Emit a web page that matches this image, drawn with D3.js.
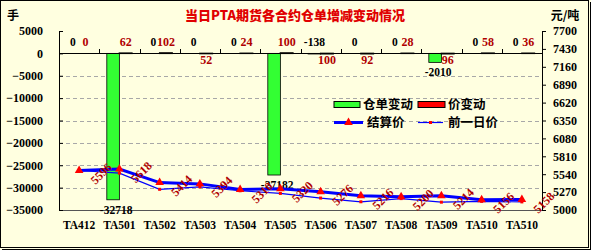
<!DOCTYPE html>
<html><head><meta charset="utf-8">
<script src="https://cdn.jsdelivr.net/npm/d3@7"></script>
<style>
html,body{margin:0;padding:0;background:#fff;}
svg{display:block;}
</style></head>
<body><svg id="c" width="591" height="250"></svg>
<script>
const categories = ["TA412","TA501","TA502","TA503","TA504","TA505","TA506","TA507","TA508","TA509","TA510","TA510"];
const warrantChange = [0,-32718,0,0,0,-27182,-138,0,0,-2010,0,0];
const priceChange = [0,62,102,-52,24,100,-100,-92,28,-96,58,36];
const settlePrice = [5596,5618,5414,5394,5310,5320,5276,5216,5200,5214,5156,5158];
const prevPrice = [5596,5556,5312,5350,5290,5250,5180,5124,5172,5118,5130,5122];
const leftTicks = [5000,0,-5000,-10000,-15000,-20000,-25000,-30000,-35000];
const rightTicks = [7700,7430,7160,6890,6620,6350,6080,5810,5540,5270,5000];
const legendLabels = ["仓单变动","价变动","结算价","前一日价"];
const titleText = "当日PTA期货各合约仓单增减变动情况";

const svg = d3.select("#c");
const W = 591, H = 250;
const L = 59, R = 542, T = 31, B = 210;
const bg = "#FFFFE0";
const latin = "'Liberation Serif', serif";
const cjk = "'Noto Sans CJK SC', sans-serif";
const labelRed = "#b00000";

svg.append("rect").attr("x",0).attr("y",0).attr("width",W).attr("height",H).attr("fill",bg);
svg.append("rect").attr("x",0.5).attr("y",0.5).attr("width",588).attr("height",247)
  .attr("fill","none").attr("stroke","#000").attr("stroke-width",1);
svg.append("line").attr("x1",2).attr("x2",591).attr("y1",249.5).attr("y2",249.5).attr("stroke","#000");
svg.append("line").attr("x1",590.5).attr("x2",590.5).attr("y1",2).attr("y2",250).attr("stroke","#000");

const x = d3.scaleBand().domain(d3.range(categories.length)).range([L,R]).paddingInner(0).paddingOuter(0);
const yL = d3.scaleLinear().domain([-35000,5000]).range([B,T]);
const yR = d3.scaleLinear().domain([5000,7700]).range([B,T]);
const cx = i => x(i) + x.bandwidth()/2;
const bw = x.bandwidth()*0.312;

// gridlines
svg.append("g").selectAll("line").data(leftTicks.filter(v => v<0 && v>-35000)).join("line")
  .attr("x1",L).attr("x2",R).attr("y1",d=>Math.round(yL(d))+0.5).attr("y2",d=>Math.round(yL(d))+0.5)
  .attr("stroke","#a8a8a8").attr("stroke-dasharray","4,3");

// bottom border line
svg.append("line").attr("x1",L).attr("x2",R).attr("y1",B+0.5).attr("y2",B+0.5).attr("stroke","#555");

// bars
const y0 = yL(0);
svg.append("g").selectAll("rect").data(warrantChange).join("rect")
  .attr("x",(d,i)=>cx(i)-bw).attr("width",bw)
  .attr("y",d=>Math.min(yL(d),y0)).attr("height",d=>Math.abs(yL(d)-y0))
  .attr("fill","#33ff33").attr("stroke","#000").attr("stroke-width",0.8);
svg.append("g").selectAll("rect").data(priceChange).join("rect")
  .attr("x",(d,i)=>cx(i)).attr("width",bw)
  .attr("y",d=>Math.min(yL(d),y0)).attr("height",d=>Math.abs(yL(d)-y0))
  .attr("fill","#ff0000").attr("stroke","#000").attr("stroke-width",1.4);

// left axis
const gl = svg.append("g").attr("transform",`translate(${L},0)`)
  .call(d3.axisLeft(yL).tickValues(leftTicks).tickFormat(d3.format("d")).tickSizeInner(-4).tickSizeOuter(0).tickPadding(16));
// right axis
const gr = svg.append("g").attr("transform",`translate(${R},0)`)
  .call(d3.axisRight(yR).tickValues(rightTicks).tickFormat(d3.format("d")).tickSizeInner(4).tickSizeOuter(0).tickPadding(7));
[gl,gr].forEach(g=>{
  g.select(".domain").attr("stroke","#000");
  g.selectAll(".tick line").attr("stroke","#000");
  g.selectAll("text").attr("font-family",latin).attr("font-weight","bold").attr("font-size","12px").attr("fill","#000");
});

// zero axis with category boundary ticks
svg.append("line").attr("x1",L).attr("x2",R).attr("y1",Math.round(y0)+0.5).attr("y2",Math.round(y0)+0.5).attr("stroke","#000");
svg.append("g").selectAll("line").data(d3.range(1,categories.length)).join("line")
  .attr("x1",i=>Math.round(x(i))+0.5).attr("x2",i=>Math.round(x(i))+0.5)
  .attr("y1",Math.round(y0)-4).attr("y2",Math.round(y0)).attr("stroke","#000");

// category labels
svg.append("g").selectAll("text").data(categories).join("text")
  .attr("x",(d,i)=>cx(i)).attr("y",224.5).attr("dy","0.35em").attr("text-anchor","middle")
  .attr("font-family",latin).attr("font-weight","bold").attr("font-size","11.5px").text(d=>d);

// bar labels
svg.append("g").selectAll("text").data(warrantChange).join("text")
  .attr("x",(d,i)=>cx(i)-bw/2+(d<=-1000?3:0))
  .attr("y",d=> d<=-1000 ? yL(d)+10 : y0-11)
  .attr("dy","0.35em").attr("text-anchor","middle")
  .attr("font-family",latin).attr("font-weight","bold").attr("font-size","11.5px").attr("fill","#000")
  .text(d=>d3.format("d")(d).replace("\u2212","-"));
svg.append("g").selectAll("text").data(priceChange).join("text")
  .attr("x",(d,i)=>cx(i)+bw/2)
  .attr("y",d=> d>=0 ? y0-12 : y0+6)
  .attr("dy","0.35em").attr("text-anchor","middle")
  .attr("font-family",latin).attr("font-weight","bold").attr("font-size","12px").attr("fill",labelRed)
  .text(d=>Math.abs(d));

// lines
const lineR = d3.line().x((d,i)=>cx(i)).y(d=>yR(d));
svg.append("path").datum(prevPrice).attr("d",lineR).attr("fill","none").attr("stroke","#0000ff").attr("stroke-width",1.2);
svg.append("path").datum(settlePrice).attr("d",lineR).attr("fill","none").attr("stroke","#0000ff").attr("stroke-width",3);
svg.append("g").selectAll("rect").data(prevPrice).join("rect")
  .attr("x",(d,i)=>cx(i)-1.5).attr("y",d=>yR(d)-1.5).attr("width",3).attr("height",3).attr("fill","#ff0000");
const tri = d3.symbol().type(d3.symbolTriangle).size(32);
svg.append("g").selectAll("path").data(settlePrice).join("path")
  .attr("transform",(d,i)=>`translate(${cx(i)},${yR(d)})`).attr("d",tri).attr("fill","#ff0000");

// settlement labels (rotated)
svg.append("g").selectAll("text").data(settlePrice).join("text")
  .attr("transform",(d,i)=>`translate(${cx(i)+22},${yR(d)+3}) rotate(-45)`)
  .attr("dy","0.35em").attr("text-anchor","middle")
  .attr("font-family",latin).attr("font-weight","bold").attr("font-size","12px").attr("fill",labelRed)
  .text(d=>d);

// legend
const lg = svg.append("g");
lg.append("rect").attr("x",334).attr("y",101.5).attr("width",26).attr("height",6).attr("fill","#33ff33").attr("stroke","#000");
lg.append("rect").attr("x",418).attr("y",101.5).attr("width",27).attr("height",6).attr("fill","#ff0000").attr("stroke","#000");
lg.append("line").attr("x1",334).attr("x2",363).attr("y1",122.5).attr("y2",122.5).attr("stroke","#0000ff").attr("stroke-width",3);
lg.append("path").attr("transform","translate(348.5,122.5)").attr("d",tri).attr("fill","#ff0000");
lg.append("line").attr("x1",418).attr("x2",443).attr("y1",122.5).attr("y2",122.5).attr("stroke","#0000ff").attr("stroke-width",1.2);
lg.append("rect").attr("x",429).attr("y",121).attr("width",3).attr("height",3).attr("fill","#ff0000");
const legPos = [[363,104.5],[448,104.5],[367,122.5],[448,122.5]];
lg.selectAll("text").data(legendLabels).join("text")
  .attr("x",(d,i)=>legPos[i][0]).attr("y",(d,i)=>legPos[i][1]).attr("dy","0.36em")
  .attr("font-family",cjk).attr("font-weight","bold").attr("font-size","12.5px").attr("fill","#000").text(d=>d);

// title & units
svg.append("text").attr("x",295).attr("y",15).attr("dy","0.36em").attr("text-anchor","middle")
  .attr("font-family",cjk).attr("font-weight","900").attr("font-size","13px").attr("fill","#e00000").text(titleText);
svg.append("text").attr("x",13).attr("y",16).attr("dy","0.36em").attr("text-anchor","middle")
  .attr("font-family",cjk).attr("font-weight","bold").attr("font-size","12px").text("手");
svg.append("text").attr("x",565).attr("y",16).attr("dy","0.36em").attr("text-anchor","middle")
  .attr("font-family",cjk).attr("font-weight","bold").attr("font-size","12px").text("元/吨");
</script></body></html>
